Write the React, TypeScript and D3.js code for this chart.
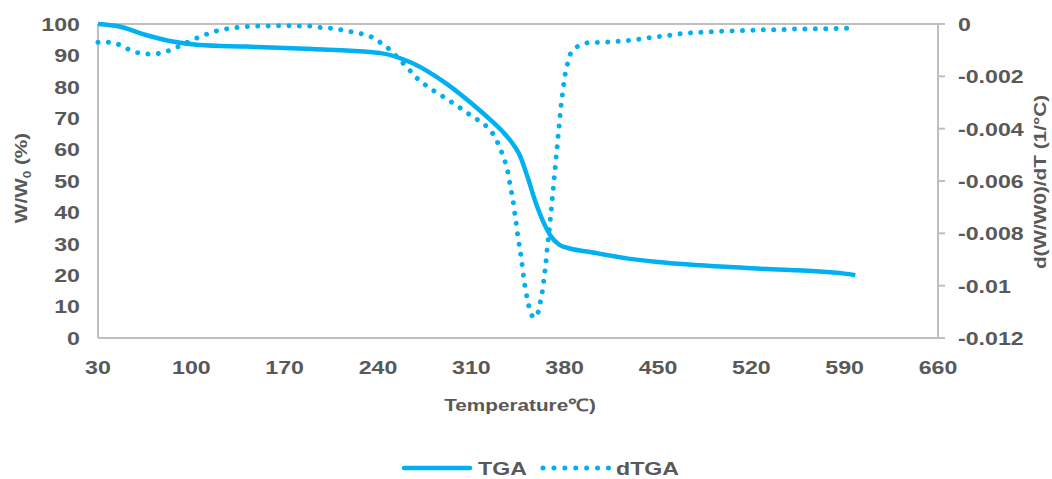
import React from "react";
import * as d3 from "d3";

// ---- Data ----
const tgaTemps = [30, 46, 66, 86, 106, 141, 191, 236, 241, 266, 291, 316, 326, 334, 340, 346, 352, 358, 364, 370, 376, 384, 400, 429, 450, 520, 590, 598];
const tgaValues = [100, 99.2, 96.5, 94.4, 93.3, 92.8, 92.0, 91.0, 90.8, 87.5, 81.1, 72.6, 68.8, 65.5, 62.5, 58.5, 51.5, 43.5, 37.0, 32.2, 29.7, 28.5, 27.3, 25.2, 24.2, 22.2, 20.5, 20.0];

const dtgaTemps = [30, 39, 46, 53, 60, 68, 76, 83, 90, 103.5, 111, 118, 126, 133, 141.5, 150, 170, 189, 196.5, 204.5, 213, 220, 228, 234.5, 241, 247.7, 258.5, 264, 269.5, 275.8, 282, 289, 295, 302, 308.5, 315, 321.5, 326.5, 330, 333, 335.8, 337.7, 339, 340.5, 341.8, 342.8, 344, 345, 346.3, 347.5, 348.5, 349.5, 350.8, 352.3, 354.3, 356.5, 358, 361, 362.5, 363.8, 364.7, 365.8, 366.5, 367.3, 368.3, 369, 369.8, 370.5, 371.3, 372, 372.8, 373.5, 374.3, 375, 375.8, 376.5, 377.3, 378.3, 379.3, 380.5, 382.3, 384.5, 391.5, 399, 407, 415, 423, 431, 438.5, 446.5, 454, 461.5, 469.5, 477, 485, 493, 501, 509, 517, 525, 533, 541, 548.5, 556.5, 564.5, 572, 580, 588, 596.5];
const dtgaValues = [-0.0007, -0.0007, -0.00079, -0.00097, -0.0011, -0.00115, -0.00112, -0.00102, -0.00087, -0.00055, -0.0004, -0.00028, -0.00019, -0.00014, -0.0001, -0.00008, -0.00007, -0.00008, -0.00013, -0.00016, -0.00023, -0.0003, -0.00038, -0.00048, -0.00068, -0.00093, -0.00148, -0.00178, -0.00208, -0.00234, -0.00256, -0.00278, -0.00298, -0.00322, -0.00345, -0.00367, -0.00392, -0.00422, -0.00456, -0.00494, -0.00535, -0.00574, -0.00614, -0.00653, -0.00693, -0.00733, -0.00775, -0.00815, -0.00857, -0.00897, -0.00937, -0.00978, -0.01019, -0.01059, -0.011, -0.0112, -0.01122, -0.01083, -0.01042, -0.01004, -0.00963, -0.00921, -0.0088, -0.00838, -0.00796, -0.00757, -0.00718, -0.00679, -0.00637, -0.00596, -0.00555, -0.00515, -0.00474, -0.00433, -0.00392, -0.00353, -0.00311, -0.00271, -0.00229, -0.00188, -0.0015, -0.00112, -0.00081, -0.00071, -0.0007, -0.00068, -0.00065, -0.00061, -0.00056, -0.0005, -0.00046, -0.00041, -0.00036, -0.00033, -0.00031, -0.00029, -0.00027, -0.00026, -0.00024, -0.00023, -0.00022, -0.00022, -0.0002, -0.00019, -0.00019, -0.00018, -0.00018, -0.00016, -0.00016];

const xTicks = [30, 100, 170, 240, 310, 380, 450, 520, 590, 660];
const yLeftTicks = [0, 10, 20, 30, 40, 50, 60, 70, 80, 90, 100];
const yRightTicks = [0, -0.002, -0.004, -0.006, -0.008, -0.01, -0.012];

const COLOR = "#00B0F0";
const TEXT = "#595959";
const AXIS = "#BFBFBF";
const FONT = "'Liberation Sans', Arial, sans-serif";
const STRETCH = 1.22;

function T(props: {
  x: number; y: number; anchor?: "start" | "middle" | "end"; size: number; rotate?: number; dy?: string; children: React.ReactNode;
}) {
  const { x, y, anchor = "start", size, rotate = 0, dy, children } = props;
  return (
    <text
      transform={`translate(${x},${y}) rotate(${rotate}) scale(${STRETCH},1)`}
      textAnchor={anchor}
      dy={dy}
      fontSize={size}
      fontWeight="bold"
      fill={TEXT}
    >
      {children}
    </text>
  );
}

export default function App() {
  const W = 1052, H = 479;
  const left = 98, right = 938, top = 24, bottom = 338;
  const x = d3.scaleLinear().domain([30, 660]).range([left, right]);
  const yL = d3.scaleLinear().domain([0, 100]).range([bottom, top]);
  const yR = d3.scaleLinear().domain([-0.012, 0]).range([bottom, top]);

  const tgaLine = d3.line<number>().x((_, i) => x(tgaTemps[i])).y((d) => yL(d)).curve(d3.curveMonotoneX);
  const dtgaLine = d3.line<number>().x((_, i) => x(dtgaTemps[i])).y((d) => yR(d)).curve(d3.curveMonotoneX);

  return (
    <svg width={W} height={H} style={{ position: "absolute", left: 0, top: 0, background: "#fff" }} fontFamily={FONT}>
      {/* plot frame */}
      <line x1={left} x2={right} y1={top} y2={top} stroke={AXIS} strokeWidth={2} />
      <line x1={left} x2={right} y1={bottom} y2={bottom} stroke={AXIS} strokeWidth={2} />
      <line x1={left} x2={left} y1={top} y2={bottom} stroke={AXIS} strokeWidth={2} />
      <line x1={right} x2={right} y1={top} y2={bottom} stroke={AXIS} strokeWidth={2} />
      {yRightTicks.map((t) => (
        <line key={"rt" + t} x1={right} x2={right + 7} y1={yR(t)} y2={yR(t)} stroke={AXIS} strokeWidth={2} />
      ))}

      {yLeftTicks.map((t) => (
        <T key={"l" + t} x={80} y={yL(t)} dy="0.36em" anchor="end" size={19}>{t}</T>
      ))}
      {yRightTicks.map((t) => (
        <T key={"r" + t} x={958} y={yR(t)} dy="0.36em" anchor="start" size={19}>{String(t)}</T>
      ))}
      {xTicks.map((t) => (
        <T key={"x" + t} x={x(t)} y={374} anchor="middle" size={19}>{t}</T>
      ))}

      {/* axis titles */}
      <T x={520} y={411} anchor="middle" size={17}>Temperature℃)</T>
      <T x={27} y={178} anchor="middle" size={17} rotate={-90}>
        W/W<tspan fontSize={11} dy={4}>0</tspan>
        <tspan dy={-4}> (%)</tspan>
      </T>
      <T x={1046} y={182} anchor="middle" size={17} rotate={-90}>d(W/W0)/dT (1/°C)</T>

      {/* series */}
      <path d={tgaLine(tgaValues) || ""} fill="none" stroke={COLOR} strokeWidth={4.5} strokeLinejoin="round" />
      <path d={dtgaLine(dtgaValues) || ""} fill="none" stroke={COLOR} strokeWidth={5} strokeLinecap="round" strokeDasharray="0.01 10.4" />

      {/* legend */}
      <line x1={404} x2={470} y1={468} y2={468} stroke={COLOR} strokeWidth={4.5} strokeLinecap="round" />
      <T x={478} y={475} size={19}>TGA</T>
      <line x1={543} x2={610} y1={468} y2={468} stroke={COLOR} strokeWidth={5} strokeLinecap="round" strokeDasharray="0.01 10.9" />
      <T x={616} y={475} size={19}>dTGA</T>
    </svg>
  );
}
